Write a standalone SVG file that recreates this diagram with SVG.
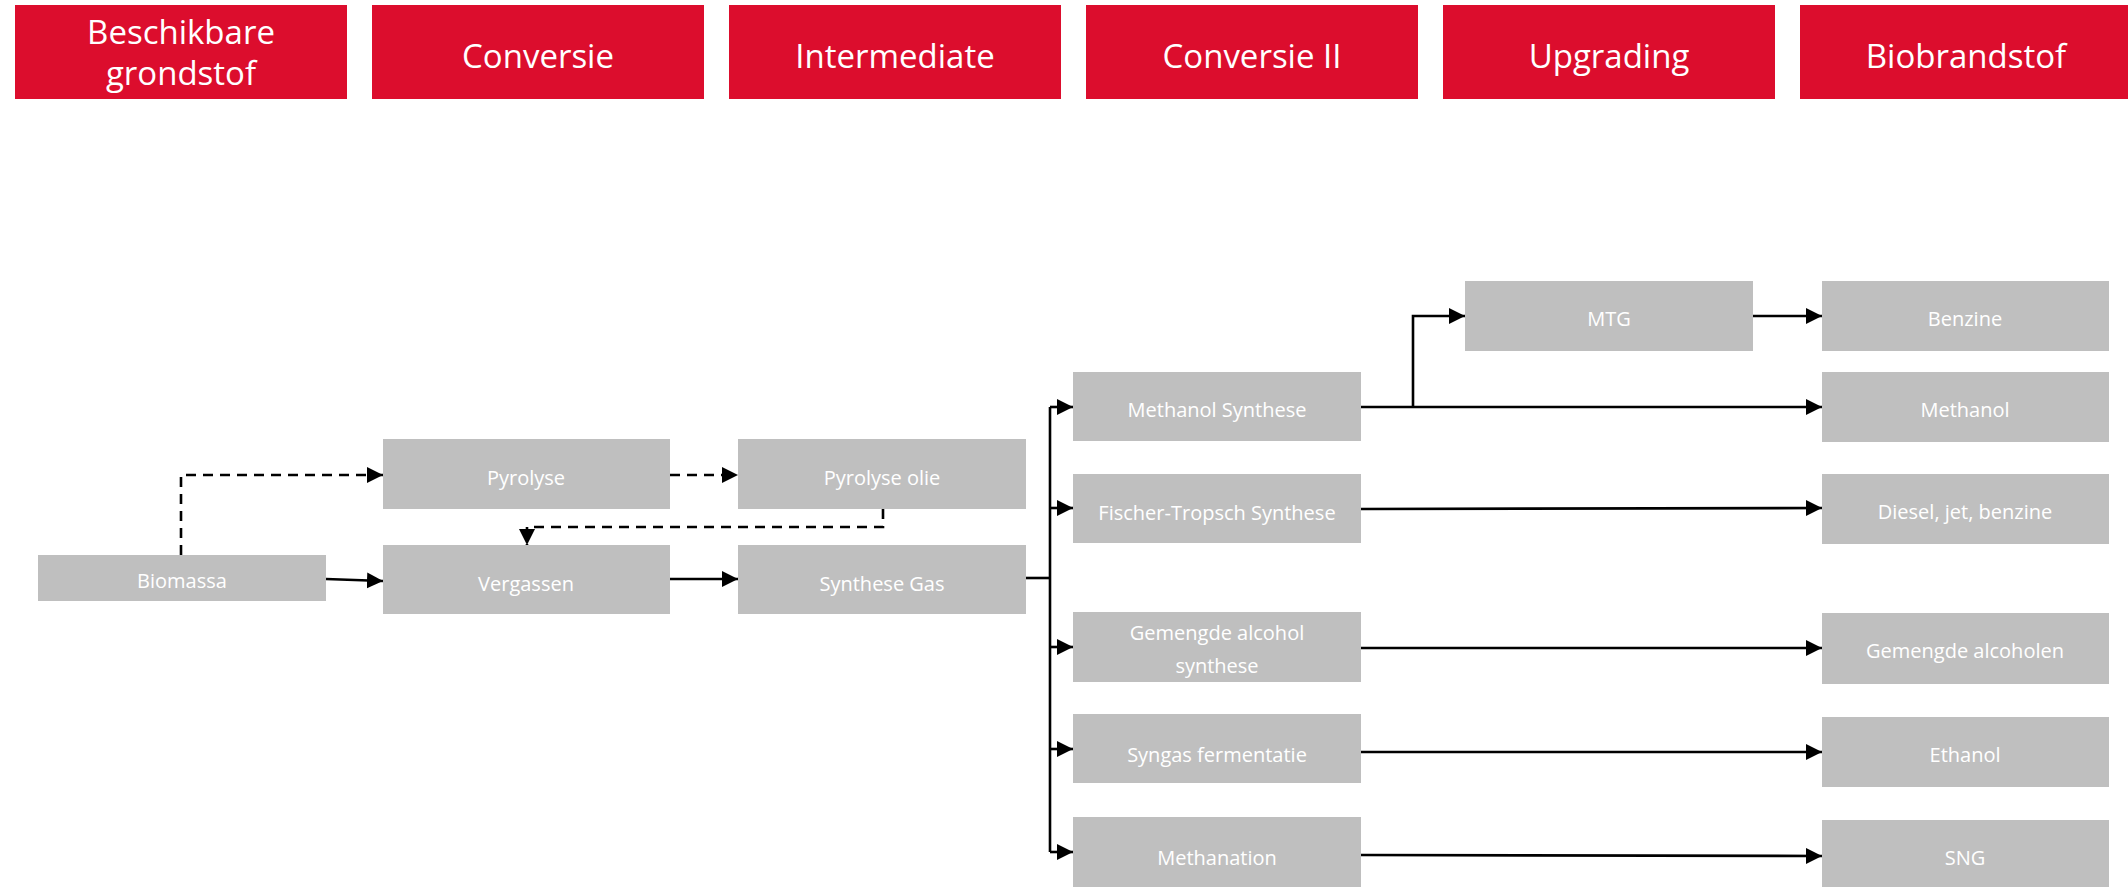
<svg xmlns="http://www.w3.org/2000/svg" width="2128" height="887" viewBox="0 0 2128 887">
<style>
.hdr{fill:#DC0D2D}
.hdrt{fill:#fff;font-family:"Open Sans","Noto Sans",sans-serif;font-size:33px;text-anchor:middle}
.nd{fill:#BFBFBF}
.ndt{fill:#fff;font-family:"Open Sans","Noto Sans",sans-serif;font-size:20px;text-anchor:middle}
.ln{fill:none;stroke:#000;stroke-width:2.6}
.ds{fill:none;stroke:#000;stroke-width:2.6;stroke-dasharray:10 7}
</style>
<defs>
<marker id="ah" markerUnits="userSpaceOnUse" markerWidth="17" markerHeight="17" refX="16" refY="8" orient="auto" viewBox="0 0 17 17">
<path d="M0,0 L16,8 L0,16 Z" fill="#000"/>
</marker>
</defs>
<g id="headers">
<g id="h1"><rect class="hdr" x="15" y="5" width="332" height="94"/><text class="hdrt" x="181" y="44">Beschikbare</text><text class="hdrt" x="181" y="85">grondstof</text></g>
<g id="h2"><rect class="hdr" x="372" y="5" width="332" height="94"/><text class="hdrt" x="538" y="68">Conversie</text></g>
<g id="h3"><rect class="hdr" x="729" y="5" width="332" height="94"/><text class="hdrt" x="895" y="68">Intermediate</text></g>
<g id="h4"><rect class="hdr" x="1086" y="5" width="332" height="94"/><text class="hdrt" x="1252" y="68">Conversie II</text></g>
<g id="h5"><rect class="hdr" x="1443" y="5" width="332" height="94"/><text class="hdrt" x="1609" y="68">Upgrading</text></g>
<g id="h6"><rect class="hdr" x="1800" y="5" width="332" height="94"/><text class="hdrt" x="1966" y="68">Biobrandstof</text></g>
</g>
<g id="connectors">
<path class="ds" d="M181,555 V475 H383" marker-end="url(#ah)"/>
<path class="ds" d="M670,475 H738" marker-end="url(#ah)"/>
<path class="ds" d="M883,509 V527 H527 V545" marker-end="url(#ah)"/>
<path class="ln" d="M326,579 L383,581" marker-end="url(#ah)"/>
<path class="ln" d="M670,579 H738" marker-end="url(#ah)"/>
<path class="ln" d="M1026,578 H1050"/>
<path class="ln" d="M1050,407 V852"/>
<path class="ln" d="M1050,407 H1073" marker-end="url(#ah)"/>
<path class="ln" d="M1050,508 H1073" marker-end="url(#ah)"/>
<path class="ln" d="M1050,647 H1073" marker-end="url(#ah)"/>
<path class="ln" d="M1050,749 H1073" marker-end="url(#ah)"/>
<path class="ln" d="M1050,852 H1073" marker-end="url(#ah)"/>
<path class="ln" d="M1361,407 H1822" marker-end="url(#ah)"/>
<path class="ln" d="M1413,407 V316 H1465" marker-end="url(#ah)"/>
<path class="ln" d="M1753,316 H1822" marker-end="url(#ah)"/>
<path class="ln" d="M1361,509 L1822,508" marker-end="url(#ah)"/>
<path class="ln" d="M1361,648 H1822" marker-end="url(#ah)"/>
<path class="ln" d="M1361,752 H1822" marker-end="url(#ah)"/>
<path class="ln" d="M1361,855 L1822,856" marker-end="url(#ah)"/>
</g>
<g id="biomassa"><rect class="nd" x="38" y="555" width="288" height="46"/><text class="ndt" x="182" y="588">Biomassa</text></g>
<g id="pyrolyse"><rect class="nd" x="383" y="439" width="287" height="70"/><text class="ndt" x="526" y="485">Pyrolyse</text></g>
<g id="vergassen"><rect class="nd" x="383" y="545" width="287" height="69"/><text class="ndt" x="526" y="591">Vergassen</text></g>
<g id="pyrolyse-olie"><rect class="nd" x="738" y="439" width="288" height="70"/><text class="ndt" x="882" y="485">Pyrolyse olie</text></g>
<g id="synthese-gas"><rect class="nd" x="738" y="545" width="288" height="69"/><text class="ndt" x="882" y="591">Synthese Gas</text></g>
<g id="methanol-synthese"><rect class="nd" x="1073" y="372" width="288" height="69"/><text class="ndt" x="1217" y="417">Methanol Synthese</text></g>
<g id="ft-synthese"><rect class="nd" x="1073" y="474" width="288" height="69"/><text class="ndt" x="1217" y="520">Fischer-Tropsch Synthese</text></g>
<g id="gemengde-synthese"><rect class="nd" x="1073" y="612" width="288" height="70"/><text class="ndt" x="1217" y="640">Gemengde alcohol</text><text class="ndt" x="1217" y="673">synthese</text></g>
<g id="syngas-fermentatie"><rect class="nd" x="1073" y="714" width="288" height="69"/><text class="ndt" x="1217" y="762">Syngas fermentatie</text></g>
<g id="methanation"><rect class="nd" x="1073" y="817" width="288" height="70"/><text class="ndt" x="1217" y="865">Methanation</text></g>
<g id="mtg"><rect class="nd" x="1465" y="281" width="288" height="70"/><text class="ndt" x="1609" y="326">MTG</text></g>
<g id="benzine"><rect class="nd" x="1822" y="281" width="287" height="70"/><text class="ndt" x="1965" y="326">Benzine</text></g>
<g id="methanol"><rect class="nd" x="1822" y="372" width="287" height="70"/><text class="ndt" x="1965" y="417">Methanol</text></g>
<g id="diesel"><rect class="nd" x="1822" y="474" width="287" height="70"/><text class="ndt" x="1965" y="519">Diesel, jet, benzine</text></g>
<g id="gemengde-alcoholen"><rect class="nd" x="1822" y="613" width="287" height="71"/><text class="ndt" x="1965" y="658">Gemengde alcoholen</text></g>
<g id="ethanol"><rect class="nd" x="1822" y="717" width="287" height="70"/><text class="ndt" x="1965" y="762">Ethanol</text></g>
<g id="sng"><rect class="nd" x="1822" y="820" width="287" height="70"/><text class="ndt" x="1965" y="865">SNG</text></g>
</svg>
